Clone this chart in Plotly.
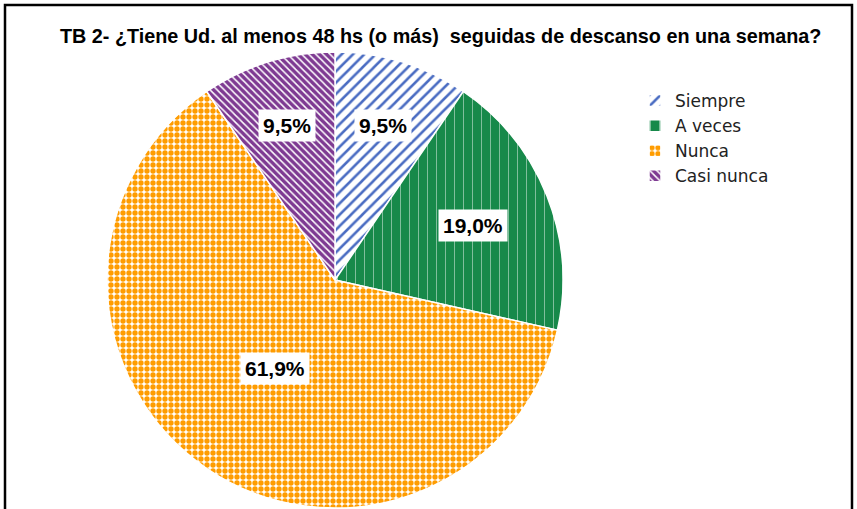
import math
import plotly.graph_objects as go

categories = ["Siempre", "A veces", "Nunca", "Casi nunca"]
values = [9.5, 19.0, 61.9, 9.5]
label_texts = ["9,5%", "19,0%", "61,9%", "9,5%"]

TITLE = "TB 2- ¿Tiene Ud. al menos 48 hs (o más)  seguidas de descanso en una semana?"

W, H = 857, 509
CX, CY, R = 335, 280, 228    # pie centre / radius in pixels
LABEL_R = [0.71, 0.65, 0.47, 0.71]


def px2x(px):
    return px / W


def px2y(py):
    return 1 - py / H


patterns = [
    dict(shape="/", fgcolor="#4a6cc2", bgcolor="white", size=8, solidity=0.32),
    dict(shape="|", fgcolor="rgba(255,255,255,0.5)", bgcolor="#17894a", size=9, solidity=0.1),
    dict(shape=".", fgcolor="#ff9c00", bgcolor="white", size=6, solidity=0.62),
    dict(shape="\\", fgcolor="white", bgcolor="#7e3a92", size=5, solidity=0.3),
]
fillcolors = ["white", "#17894a", "white", "#7e3a92"]

fig = go.Figure(go.Pie(
    labels=categories,
    values=values,
    sort=False,
    direction="clockwise",
    rotation=0,
    textinfo="none",
    hoverinfo="label+percent",
    marker=dict(
        colors=fillcolors,
        pattern=dict(
            shape=[p["shape"] for p in patterns],
            fgcolor=[p["fgcolor"] for p in patterns],
            bgcolor=[p["bgcolor"] for p in patterns],
            size=[p["size"] for p in patterns],
            solidity=[p["solidity"] for p in patterns],
        ),
        line=dict(color="white", width=1.5),
    ),
    domain=dict(
        x=[px2x(CX - R), px2x(CX + R)],
        y=[px2y(CY + R), px2y(CY - R)],
    ),
))

# data labels derived from the values (mid-angle of each slice)
total = sum(values)
cum = 0.0
annotations = []
for v, txt, fr in zip(values, label_texts, LABEL_R):
    mid = (cum + v / 2) / total * 2 * math.pi
    cum += v
    lx = CX + fr * R * math.sin(mid)
    ly = CY - fr * R * math.cos(mid)
    annotations.append(dict(
        x=px2x(lx), y=px2y(ly), xref="paper", yref="paper",
        xanchor="center", yanchor="middle",
        text=txt, showarrow=False, bgcolor="white", borderpad=4,
        font=dict(family="Liberation Sans", size=21, color="black", weight="bold"),
    ))

annotations.append(dict(
    x=px2x(440), y=px2y(36), xref="paper", yref="paper", text=TITLE,
    showarrow=False, xanchor="center", yanchor="middle",
    font=dict(family="Liberation Sans", size=19.8, color="black", weight="bold"),
))

fig.update_layout(
    width=W, height=H,
    margin=dict(l=0, r=0, t=0, b=0),
    paper_bgcolor="white",
    annotations=annotations,
    showlegend=True,
    legend=dict(
        x=px2x(635), y=px2y(83), xanchor="left", yanchor="top",
        font=dict(family="DejaVu Sans", size=17, color="#222222"),
        bgcolor="rgba(0,0,0,0)",
    ),
    shapes=[dict(
        type="rect", xref="paper", yref="paper",
        x0=px2x(5), x1=px2x(852), y0=-0.1, y1=px2y(5),
        line=dict(color="black", width=2.5), fillcolor="rgba(0,0,0,0)",
    )],
)

fig.write_html(
    "out.html",
    config={"displayModeBar": False},
    post_script="document.body.style.margin='0';document.body.style.overflow='hidden';",
)
